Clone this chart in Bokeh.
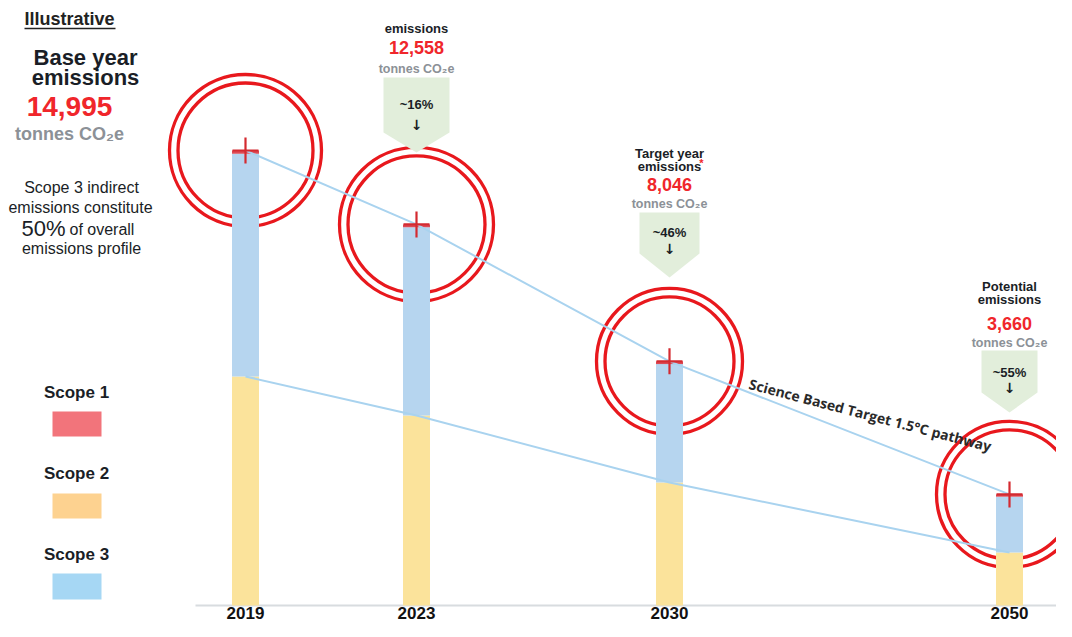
from bokeh.plotting import figure
from bokeh.models import Range1d, ColumnDataSource
from bokeh.core.properties import value
from bokeh.embed import file_html
from bokeh.resources import INLINE

# ---------------- data ----------------
years = ["2019", "2023", "2030", "2050"]
totals = [14995, 12558, 8046, 3660]
total_labels = ["14,995", "12,558", "8,046", "3,660"]
scope1 = [105, 95, 90, 75]
scope2 = [7547, 6262, 4054, 1747]
scope3 = [7343, 6201, 3902, 1838]
reductions = ["~16%", "~46%", "~55%"]
callout_titles = [["emissions"], ["Target year", "emissions"], ["Potential", "emissions"]]
scope_names = ["Scope 1", "Scope 2", "Scope 3"]
unit_label = "tonnes CO\u2082e"
pathway_label = "Science Based Target 1.5\u00b0C pathway"

# ---------------- layout ----------------
W, H = 1056, 621
Y_TOP, Y_BOT = 19938, -528


def rx(px):
    return px


def ry(py):
    return Y_TOP - py * (Y_TOP - Y_BOT) / H


x_slots = [rx(245), rx(416), rx(669), rx(1009)]
ring_sizes = [152, 154, 146, 146]

BAR_BLUE = "#b6d5ef"
BAR_YELLOW = "#fbe39b"
BAR_RED = "#dc4a55"
RING_RED = "#e8181d"
LINE_BLUE = "#a9d3ef"
DARK = "#1a1e26"
RED_TXT = "#f0262b"
GRAY_TXT = "#8c9197"
GREEN = "#e2eedb"
LEG_COLORS = ["#f2747b", "#fdd290", "#a6d7f4"]
SANS = "Liberation Sans"

p = figure(width=W, height=H, x_range=Range1d(0, W), y_range=Range1d(Y_BOT, Y_TOP),
           output_backend="svg", toolbar_location=None, min_border=0,
           x_axis_type=None, y_axis_type=None)
p.outline_line_color = None
p.grid.visible = False
p.background_fill_color = "white"
p.border_fill_color = "white"


def txt(x, y, s, size, color=DARK, bold=True, font=SANS, align="center",
        baseline="middle", angle=0.0):
    p.text(x=[x], y=[y], text=[s], text_font=value(font), text_font_size=f"{size}px",
           text_font_style="bold" if bold else "normal", text_color=color,
           text_align=align, text_baseline=baseline, angle=angle)


# base axis line
p.segment(x0=[rx(195)], y0=[0], x1=[rx(1062)], y1=[0], line_color="#d8dcdf", line_width=2)

# rings (behind bars)
p.scatter(x=x_slots, y=totals, size=ring_sizes, marker="circle", fill_color=None,
          line_color=RING_RED, line_width=3.3)
p.scatter(x=x_slots, y=totals, size=[s - 17 for s in ring_sizes], marker="circle",
          fill_color=None, line_color=RING_RED, line_width=3.3)

# stacked bars
src = ColumnDataSource(dict(x=x_slots, s2=scope2, s3=scope3, s1=scope1))
p.vbar_stack(["s2", "s3", "s1"], x="x", width=27, color=[BAR_YELLOW, BAR_BLUE, BAR_RED],
             line_color=None, source=src)

# pathway lines
p.line(x=x_slots, y=totals, line_color=LINE_BLUE, line_width=2)
p.line(x=x_slots, y=scope2, line_color=LINE_BLUE, line_width=2)

# crosshairs
p.scatter(x=x_slots, y=totals, marker="cross", size=26, line_color="#d42a30", line_width=2.2)

# year labels
for xs, yr in zip(x_slots, years):
    txt(xs, ry(612), yr, 17, color="#111111")

# pathway label
txt(rx(749), ry(383), pathway_label, 14, color="#2a2a2a", bold=True, font="Open Sans",
    align="left", baseline="alphabetic", angle=-0.255)

# ---------------- callouts ----------------
geo = [  # top, shoulder, tip, half width, title ys, value y, unit y, pct y, arrow y
    (77, 132, 152, 33, [28], 47, 68, 104, 124),
    (212, 253, 277, 30, [153, 166], 184, 203, 232, 248),
    (350, 392, 412, 28, [286, 299], 323, 342, 372, 387),
]
for i in range(3):
    cx = x_slots[i + 1]
    top, sh, tip, hw, tys, vy, uy, py, ay = geo[i]
    p.patch(x=[cx - hw, cx + hw, cx + hw, cx, cx - hw],
            y=[ry(top), ry(top), ry(sh), ry(tip), ry(sh)],
            fill_color=GREEN, line_color=None)
    for t, ty in zip(callout_titles[i], tys):
        txt(cx, ry(ty), t, 13)
    txt(cx, ry(vy), total_labels[i + 1], 18, color=RED_TXT)
    txt(cx, ry(uy), unit_label, 12.5, color=GRAY_TXT)
    txt(cx, ry(py), reductions[i], 13)
    txt(cx, ry(ay), "\u2193", 14, font="DejaVu Sans")
# red asterisk on target year
txt(x_slots[2] + 32, ry(162), "*", 11, color=RED_TXT)

# ---------------- left panel ----------------
txt(rx(69), ry(18), "Illustrative", 18, color="#222222")
p.segment(x0=[rx(24)], y0=[ry(28)], x1=[rx(115)], y1=[ry(28)], line_color="#222222",
          line_width=1.5)
txt(rx(85), ry(57), "Base year", 22)
txt(rx(85), ry(77), "emissions", 22)
txt(rx(69), ry(106), total_labels[0], 28, color=RED_TXT)
txt(rx(69), ry(133), unit_label, 18, color=GRAY_TXT)
txt(rx(81), ry(187), "Scope 3 indirect", 16, bold=False)
txt(rx(80), ry(207), "emissions constitute", 16, bold=False)
txt(rx(65), ry(228), "50%", 22, bold=False, align="right")
txt(rx(69), ry(229), "of overall", 16, bold=False, align="left")
txt(rx(81), ry(248), "emissions profile", 16, bold=False)

# legend
leg_y = [(392, 411, 436), (473, 493, 518), (554, 573, 599)]
for name, col, (ty, y0, y1) in zip(scope_names, LEG_COLORS, leg_y):
    txt(rx(76), ry(ty), name, 17)
    p.quad(left=[rx(52)], right=[rx(101)], top=[ry(y0)], bottom=[ry(y1)],
           fill_color=col, line_color=None)

open("out.html", "w").write(file_html(p, INLINE))
